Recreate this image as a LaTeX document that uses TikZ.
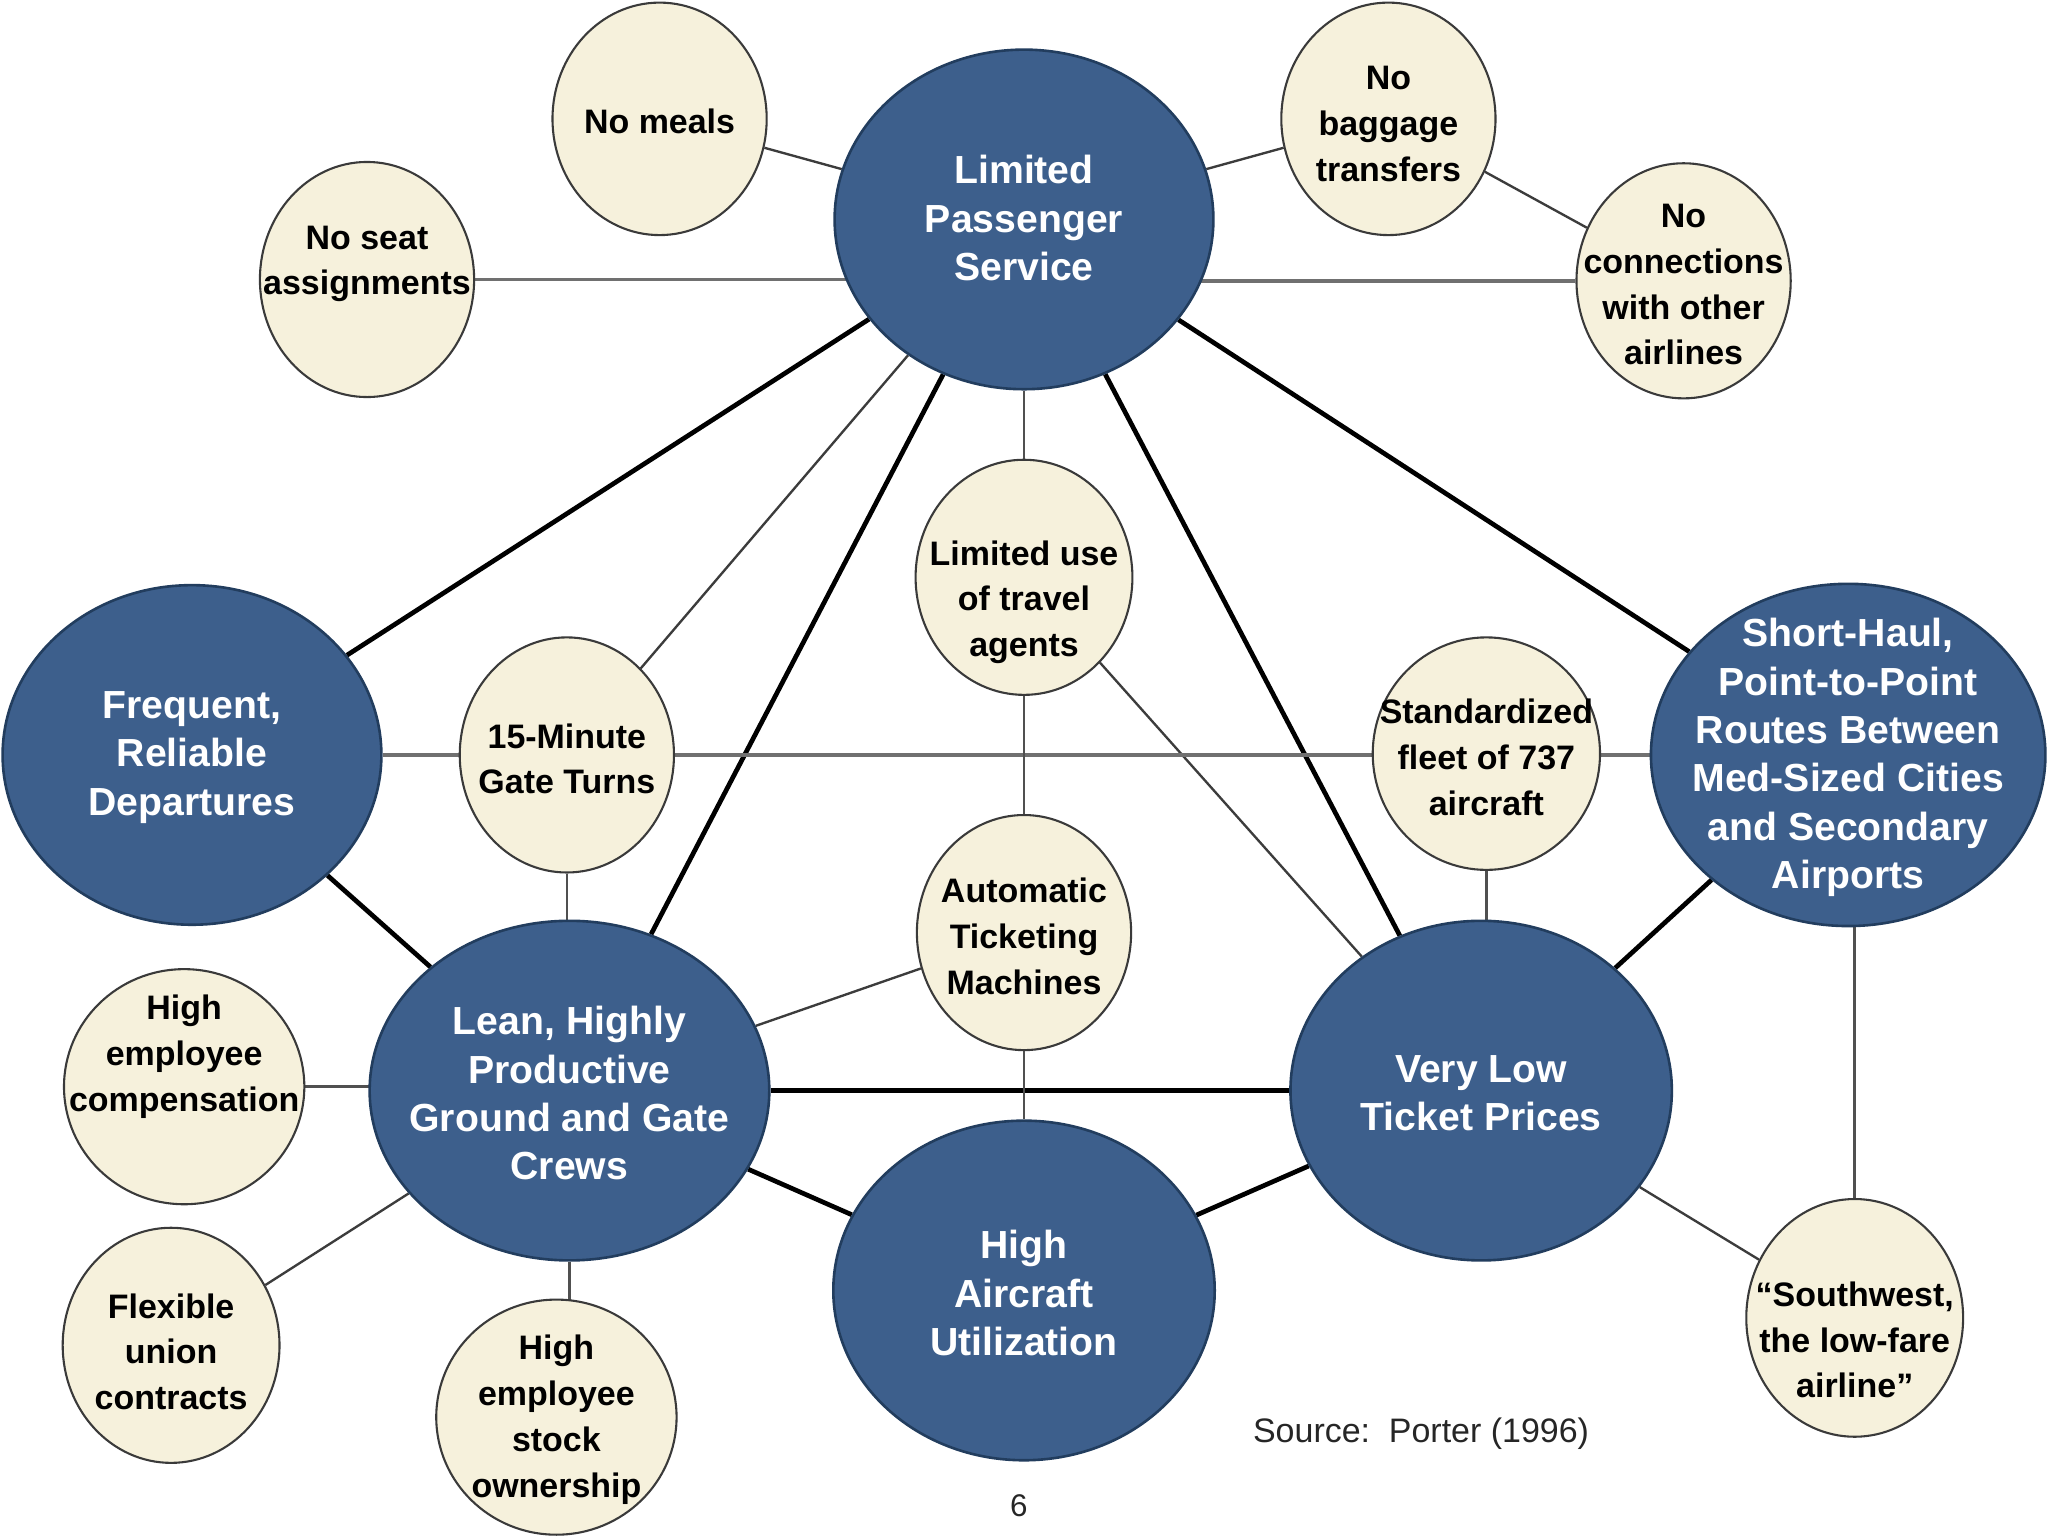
\documentclass[tikz,border=0pt]{standalone}
\usepackage{fontspec}
\setmainfont{Liberation Sans}
\usetikzlibrary{shapes.geometric}
\definecolor{bigblue}{HTML}{3D5F8C}
\definecolor{bigedge}{HTML}{223D5E}
\definecolor{cream}{HTML}{F6F1DC}
\definecolor{smalledge}{HTML}{3A3A3A}
\definecolor{thinline}{HTML}{3C3C3C}
\definecolor{grayline}{HTML}{707070}
\definecolor{vertline}{HTML}{505050}
\pgfdeclarelayer{bg}
\pgfdeclarelayer{paper}
\pgfsetlayers{paper,bg,main}
\tikzset{
  big/.style={ellipse, draw=bigedge, line width=1pt, fill=bigblue, inner sep=0pt,
              minimum width=145pt, minimum height=130pt},
  small/.style={ellipse, draw=smalledge, line width=0.8pt, fill=cream, inner sep=0pt,
              minimum width=82pt, minimum height=90pt},
  bt/.style={text=white, font=\fontsize{15}{18.5}\selectfont\bfseries, align=center, inner sep=0pt},
  st/.style={text=black, font=\fontsize{13}{17.5}\selectfont\bfseries, align=center, inner sep=0pt},
  thickc/.style={draw=black, line width=1.8pt},
  thinc/.style={draw=thinline, line width=0.9pt},
  grayc/.style={draw=grayline, line width=1.3pt},
  vertc/.style={draw=vertline, line width=1pt},
}
\begin{document}
\begin{tikzpicture}[x=0.5pt, y=-0.5pt]
\begin{pgfonlayer}{paper}
  \fill[white] (0,0) rectangle (1568,1176);
\end{pgfonlayer}
\useasboundingbox (0,0) rectangle (1568,1176);

% big ellipses
\node[big] (lps) at (784,168) {};
\node[big] (frd) at (147,578) {};
\node[big, minimum width=151pt, minimum height=131pt] (sh) at (1415,578) {};
\node[big, minimum width=153pt] (lean) at (436,835) {};
\node[big, minimum width=146pt] (vltp) at (1134,835) {};
\node[big, minimum width=146pt] (hau) at (784,988) {};

% small circles
\node[small, minimum height=89pt] (nomeals) at (505,91) {};
\node[small] (noseat) at (281,214) {};
\node[small, minimum height=89pt] (nobag) at (1063,91) {};
\node[small] (noconn) at (1289,215) {};
\node[small, minimum width=83pt] (travel) at (784,442) {};
\node[small] (gate) at (434,578) {};
\node[small, minimum width=87pt, minimum height=89pt] (fleet) at (1138,577) {};
\node[small] (auto) at (784,714) {};
\node[small, minimum width=92pt] (comp) at (141,832) {};
\node[small, minimum width=83pt] (union) at (131,1030) {};
\node[small, minimum width=92pt] (stock) at (426,1085) {};
\node[small, minimum width=83pt, minimum height=91pt] (sw) at (1420,1009) {};

% connectors
\begin{pgfonlayer}{bg}
  \draw[thickc] (lps) -- (frd);
  \draw[thickc] (lps) -- (lean);
  \draw[thickc] (lps) -- (vltp);
  \draw[thickc] (lps) -- (sh);
  \draw[thickc] (frd) -- (lean);
  \draw[thickc] (sh) -- (vltp);
  \draw[thickc] (lean) -- (vltp);
  \draw[thickc] (lean) -- (hau);
  \draw[thickc] (vltp) -- (hau);

  \draw[thinc] (nomeals) -- (lps);
  \draw[thinc] (nobag) -- (lps);
  \draw[thinc] (nobag) -- (noconn);
  \draw[thinc] (lps) -- (gate);
  \draw[thinc] (travel) -- (vltp);
  \draw[thinc] (auto) -- (lean);
  \draw[thinc] (vltp) -- (sw);
  \draw[thinc] (union) -- (lean);

  \draw[grayc] (noseat) -- (noseat -| lps);
  \draw[grayc] (noconn) -- (noconn -| lps);
  \draw[grayc] (frd) -- (sh);

  \draw[vertc] (lps) -- (travel);
  \draw[vertc] (travel) -- (auto);
  \draw[vertc] (auto) -- (hau);
  \draw[vertc] (gate) -- (gate |- lean);
  \draw[vertc] (fleet) -- (fleet |- vltp);
  \draw[vertc] (sw) -- (sw |- sh);
  \draw[vertc] (comp) -- (comp -| lean);
  \draw[vertc] (lean) -- (lean |- stock);
\end{pgfonlayer}

% texts in big ellipses
\node[bt] (lps-t) at (784,167) {Limited\\Passenger\\Service};
\node[bt] (frd-t) at (147,580) {Frequent,\\Reliable\\Departures};
\node[bt] (sh-t) at (1415,580) {Short-Haul,\\Point-to-Point\\Routes Between\\Med-Sized Cities\\and Secondary\\Airports};
\node[bt] (lean-t) at (436,837) {Lean, Highly\\Productive\\Ground and Gate\\Crews};
\node[bt] (vltp-t) at (1134,837) {Very Low\\Ticket Prices};
\node[bt] (hau-t) at (784,990) {High\\Aircraft\\Utilization};

% texts in small circles
\node[st] (nomeals-t) at (505,93) {No meals};
\node[st] (noseat-t) at (281,202) {No seat\\assignments};
\node[st] (nobag-t) at (1063,95) {No\\baggage\\transfers};
\node[st] (noconn-t) at (1289,218) {No\\connections\\with other\\airlines};
\node[st] (travel-t) at (784,461) {Limited use\\of travel\\agents};
\node[st] (gate-t) at (434,581) {15-Minute\\Gate Turns};
\node[st] (fleet-t) at (1138,580) {Standardized\\fleet of 737\\aircraft};
\node[st] (auto-t) at (784,717) {Automatic\\Ticketing\\Machines};
\node[st] (comp-t) at (141,809) {High\\employee\\compensation};
\node[st] (union-t) at (131,1035) {Flexible\\union\\contracts};
\node[st] (stock-t) at (426,1087) {High\\employee\\stock\\ownership};
\node[st] (sw-t) at (1420,1026) {“Southwest,\\the low-fare\\airline”};

% source and page number
\node[text=black!85, font=\fontsize{13}{15}\selectfont, inner sep=0pt] (src) at (1088,1098) {Source:\ \ Porter (1996)};
\node[text=black!85, font=\fontsize{12}{14}\selectfont, inner sep=0pt] (pg) at (780,1153) {6};
\end{tikzpicture}
\end{document}
